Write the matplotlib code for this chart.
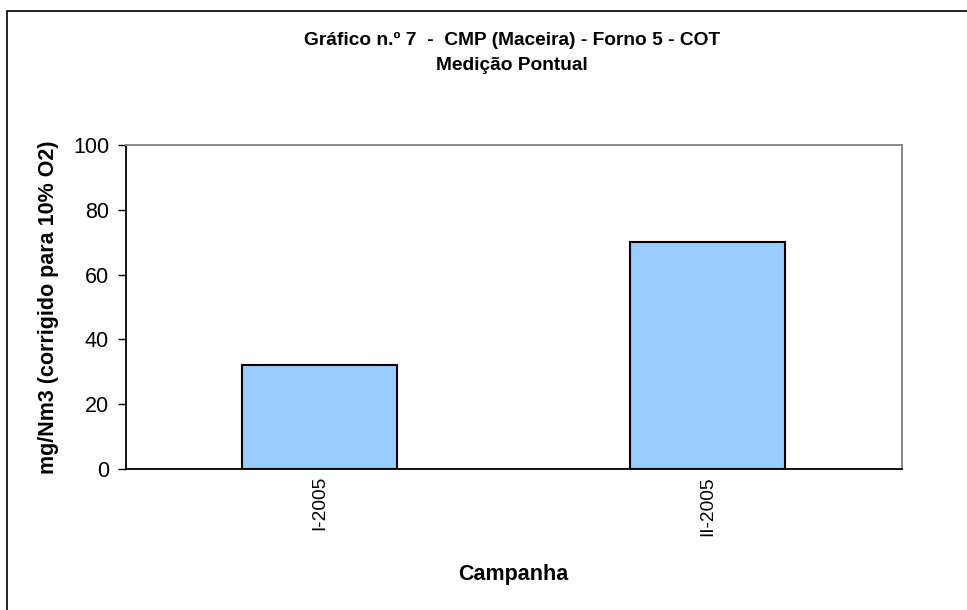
import matplotlib
matplotlib.use("Agg")
import matplotlib.pyplot as plt
from matplotlib.patches import Rectangle

campanhas = ["I-2005", "II-2005"]
cot = [32, 70]

title_1 = "Gráfico n.º 7  -  CMP (Maceira) - Forno 5 - COT"
title_2 = "Medição Pontual"

plt.rcParams['font.family'] = ['Liberation Sans', 'DejaVu Sans']

W, H = 967, 610


def main():
    fig = plt.figure(figsize=(W / 100, H / 100), dpi=100)

    # outer chart border (only top/left visible in the reference)
    fig.patches.append(Rectangle((7 / W, -0.1), 1.2, 1 - 11 / H + 0.1,
                                 transform=fig.transFigure, fill=False,
                                 edgecolor="black", linewidth=1.2))

    ax = fig.add_axes([125.7 / W, 1 - 469.3 / H, 776 / W, 324.6 / H])
    xs = range(len(campanhas))
    ax.bar(xs, cot, width=0.4, color="#99CCFF", edgecolor="black",
           linewidth=1.5, zorder=3)

    ax.set_xlim(-0.5, 1.5)
    ax.set_ylim(0, 100)
    ax.set_yticks([0, 20, 40, 60, 80, 100])
    ax.set_xticks(list(xs))
    ax.set_xticklabels(campanhas, rotation=90, fontsize=13.8)
    ax.tick_params(axis="x", length=0, pad=5)
    ax.tick_params(axis="y", length=6, width=1, labelsize=15.5, pad=6)

    for s in ("left", "bottom"):
        ax.spines[s].set_color("black")
        ax.spines[s].set_linewidth(1.3)
    for s in ("top", "right"):
        ax.spines[s].set_color("#808080")
        ax.spines[s].set_linewidth(1.3)

    ax.set_xlabel("Campanha", fontsize=15.5, fontweight="bold", labelpad=20)
    ax.set_ylabel("mg/Nm3 (corrigido para 10% O2)", fontsize=15.5,
                  fontweight="bold", labelpad=10)

    fig.text(512 / W, 1 - 40 / H, title_1, ha="center", va="center",
             fontsize=13.8, fontweight="bold")
    fig.text(512 / W, 1 - 65 / H, title_2, ha="center", va="center",
             fontsize=13.8, fontweight="bold")

    fig.savefig("out.png", dpi=100)


if __name__ == "__main__":
    main()
